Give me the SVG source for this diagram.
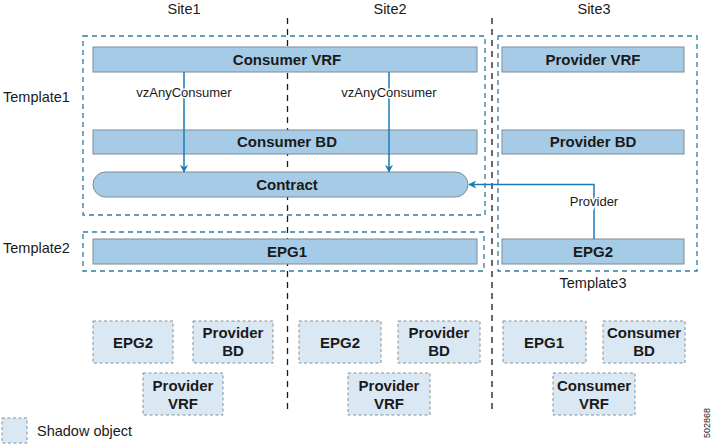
<svg xmlns="http://www.w3.org/2000/svg" width="713" height="445" viewBox="0 0 713 445">
<style>
.lbl{font-family:"Liberation Sans",Arial,sans-serif;font-size:14.5px;fill:#1a1a1a}
.sm{font-family:"Liberation Sans",Arial,sans-serif;font-size:13px;fill:#1a1a1a}
.b{font-family:"Liberation Sans",Arial,sans-serif;font-size:15px;font-weight:bold;fill:#1a1a1a;text-anchor:middle}
.bar{fill:#a6cbe6;stroke:#7f8c96;stroke-width:1}
.tpl{fill:none;stroke:#2e7ca6;stroke-width:1.3;stroke-dasharray:5,4}
.site{fill:none;stroke:#1a1a1a;stroke-width:1.3;stroke-dasharray:6,5}
.sh{fill:#dae8f4;stroke:#8a9096;stroke-width:1;stroke-dasharray:3,2.5}
.con{fill:none;stroke:#1b7bb6;stroke-width:1.5}
</style>
<defs>
<marker id="ah" viewBox="0 0 10 10" refX="9" refY="5" markerWidth="8" markerHeight="8" markerUnits="userSpaceOnUse" orient="auto">
<path d="M0,0 L10,5 L0,10 L3,5 z" fill="#1b7bb6"/>
</marker>
</defs>
<rect width="713" height="445" fill="#ffffff"/>

<g id="sites">
<text class="lbl" x="184" y="14" text-anchor="middle">Site1</text>
<text class="lbl" x="390" y="14" text-anchor="middle">Site2</text>
<text class="lbl" x="594" y="14" text-anchor="middle">Site3</text>
<line class="site" x1="287.5" y1="18" x2="287.5" y2="414"/>
<line class="site" x1="492" y1="18" x2="492" y2="414"/>
</g>

<g id="templates">
<rect class="tpl" x="83" y="36" width="402" height="179"/>
<rect class="tpl" x="83" y="232" width="401" height="39"/>
<rect class="tpl" x="498" y="36" width="199" height="235"/>
<text class="lbl" x="3" y="102">Template1</text>
<text class="lbl" x="3" y="253">Template2</text>
<text class="lbl" x="593" y="288" text-anchor="middle">Template3</text>
</g>

<g id="consumer-vrf"><rect class="bar" x="93" y="47" width="384" height="25"/><text class="b" x="287" y="65">Consumer VRF</text></g>
<g id="consumer-bd"><rect class="bar" x="93" y="130" width="384" height="24"/><text class="b" x="287" y="147">Consumer BD</text></g>
<g id="contract"><rect class="bar" x="93" y="172" width="375" height="25" rx="12.5" ry="12.5"/><text class="b" x="287" y="190">Contract</text></g>
<g id="epg1"><rect class="bar" x="93" y="239" width="384" height="25"/><text class="b" x="287" y="257">EPG1</text></g>
<g id="provider-vrf"><rect class="bar" x="502" y="47" width="182" height="25"/><text class="b" x="593" y="65">Provider VRF</text></g>
<g id="provider-bd"><rect class="bar" x="502" y="130" width="182" height="24"/><text class="b" x="593" y="147">Provider BD</text></g>
<g id="epg2"><rect class="bar" x="502" y="239" width="182" height="25"/><text class="b" x="593" y="257">EPG2</text></g>

<g id="connectors">
<line class="con" x1="184" y1="72" x2="184" y2="172" marker-end="url(#ah)"/>
<line class="con" x1="389" y1="72" x2="389" y2="172" marker-end="url(#ah)"/>
<polyline class="con" points="594,239 594,184.5 469,184.5" marker-end="url(#ah)"/>
<text class="sm" x="184" y="97" text-anchor="middle" stroke="#ffffff" stroke-width="3" paint-order="stroke">vzAnyConsumer</text>
<text class="sm" x="389" y="97" text-anchor="middle" stroke="#ffffff" stroke-width="3" paint-order="stroke">vzAnyConsumer</text>
<text class="sm" x="594" y="206" text-anchor="middle" stroke="#ffffff" stroke-width="3" paint-order="stroke">Provider</text>
</g>

<g id="shadow-site1">
<g id="s1-epg2"><rect class="sh" x="93" y="321" width="80" height="42"/><text class="b" x="133" y="348">EPG2</text></g>
<g id="s1-pbd"><rect class="sh" x="193" y="321" width="80" height="42"/><text class="b" x="233" y="338">Provider</text><text class="b" x="233" y="356">BD</text></g>
<g id="s1-pvrf"><rect class="sh" x="143" y="373" width="80" height="42"/><text class="b" x="183" y="391">Provider</text><text class="b" x="183" y="409">VRF</text></g>
</g>
<g id="shadow-site2">
<g id="s2-epg2"><rect class="sh" x="299" y="321" width="82" height="42"/><text class="b" x="340" y="348">EPG2</text></g>
<g id="s2-pbd"><rect class="sh" x="398" y="321" width="82" height="42"/><text class="b" x="439" y="338">Provider</text><text class="b" x="439" y="356">BD</text></g>
<g id="s2-pvrf"><rect class="sh" x="348" y="373" width="82" height="42"/><text class="b" x="389" y="391">Provider</text><text class="b" x="389" y="409">VRF</text></g>
</g>
<g id="shadow-site3">
<g id="s3-epg1"><rect class="sh" x="503" y="321" width="83" height="42"/><text class="b" x="544" y="348">EPG1</text></g>
<g id="s3-cbd"><rect class="sh" x="603" y="321" width="82" height="42"/><text class="b" x="644" y="338">Consumer</text><text class="b" x="644" y="356">BD</text></g>
<g id="s3-cvrf"><rect class="sh" x="553" y="373" width="82" height="42"/><text class="b" x="594" y="391">Consumer</text><text class="b" x="594" y="409">VRF</text></g>
</g>

<g id="legend">
<rect class="sh" x="2" y="418" width="25" height="25"/>
<text class="lbl" x="37" y="436">Shadow object</text>
</g>
<text x="710" y="423" font-family="'Liberation Sans',Arial,sans-serif" font-size="9" fill="#1a1a1a" text-anchor="middle" transform="rotate(-90 710 423)">502868</text>
</svg>
